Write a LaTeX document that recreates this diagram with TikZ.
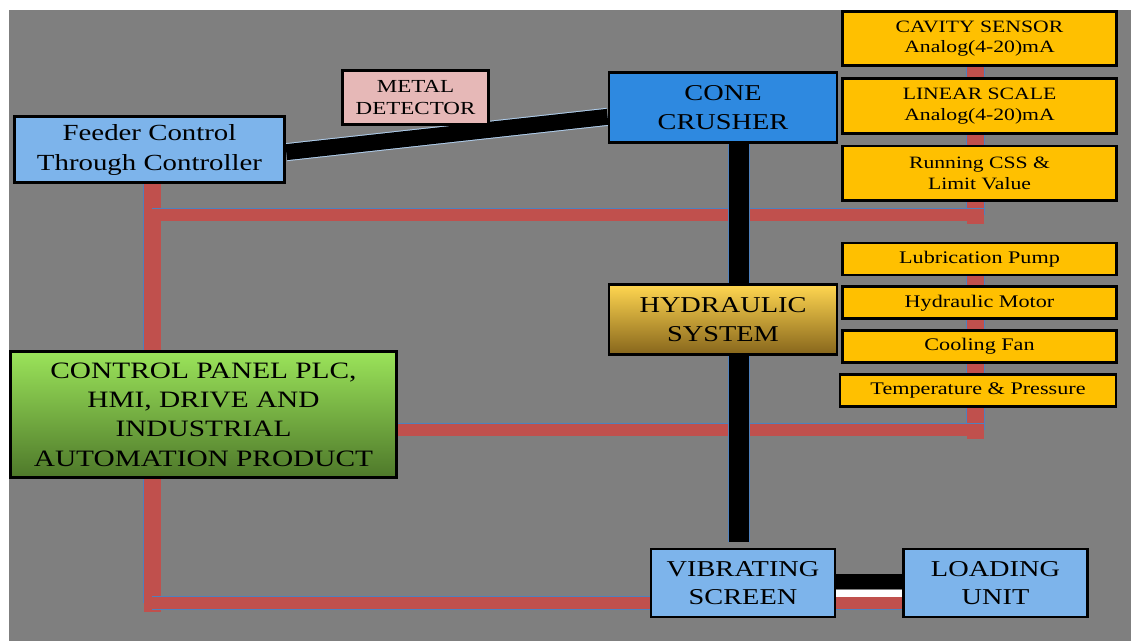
\documentclass[tikz,border=0pt]{standalone}
\usepackage{fontspec}
\setmainfont[FakeStretch=1.25]{Liberation Serif}
\usetikzlibrary{positioning}
\definecolor{bggray}{RGB}{127,127,127}
\definecolor{lblue}{RGB}{125,180,235}
\definecolor{cblue}{RGB}{46,137,224}
\definecolor{mpink}{RGB}{230,184,183}
\definecolor{sorange}{RGB}{255,192,0}
\definecolor{wred}{RGB}{192,80,77}
\definecolor{wedge}{RGB}{79,129,189}
\definecolor{diagedge}{RGB}{175,205,235}
\definecolor{hydtop}{RGB}{255,214,80}
\definecolor{hydbot}{RGB}{135,102,28}
\definecolor{pnltop}{RGB}{155,228,90}
\definecolor{pnlbot}{RGB}{78,120,42}
\pgfdeclarelayer{bg}
\pgfdeclarelayer{wires}
\pgfsetlayers{bg,wires,main}
\tikzstyle{box}=[draw=black,line width=2.1pt,align=center,inner sep=0pt,text=black]
\tikzstyle{big}=[box,font=\fontsize{17}{21.5}\selectfont]
\tikzstyle{unit}=[big,fill=lblue,minimum width=138pt,minimum height=51pt]
\tikzstyle{sensor}=[box,fill=sorange,minimum width=205pt,minimum height=41pt,font=\fontsize{13}{15.5}\selectfont]
\tikzstyle{pump}=[box,fill=sorange,minimum width=205pt,minimum height=24pt,font=\fontsize{13.3}{15}\selectfont]
\tikzstyle{redv}=[wred,line width=13pt,line cap=rect,preaction={draw=wedge,line width=13.8pt}]
\tikzstyle{redh}=[wred,line width=9pt,preaction={draw=wedge,line width=9.8pt}]
\tikzstyle{blackw}=[black,line width=15pt,preaction={draw=wedge,line width=15.8pt}]

\begin{document}
\begin{tikzpicture}[x=0.75pt,y=-0.75pt]
    \useasboundingbox (0,0) rectangle (1131,641);
    \begin{pgfonlayer}{bg}
        \fill[bggray] (9,10) rectangle (1131,641);
    \end{pgfonlayer}

    % main blocks
    \node[box,fill=lblue,minimum width=203pt,minimum height=50pt,font=\fontsize{17.3}{22.5}\selectfont] (feeder) at (149.5,149.5) {Feeder Control\\Through Controller};
    \node[box,fill=mpink,minimum width=109pt,minimum height=41pt,font=\fontsize{13.8}{16.5}\selectfont] (metal) at (415.5,97.5) {METAL\\DETECTOR};
    \node[big,fill=cblue,minimum width=171pt,minimum height=52pt] (cone) at (723,107.5) {CONE\\CRUSHER};
    \node[big,top color=hydtop,bottom color=hydbot,minimum width=171pt,minimum height=52pt] (hyd) at (723,319.5) {HYDRAULIC\\SYSTEM};
    \node[big,top color=pnltop,bottom color=pnlbot,minimum width=290pt,minimum height=95pt,font=\fontsize{17.6}{22}\selectfont] (panel) at (203.5,414.5) {CONTROL PANEL PLC,\\HMI, DRIVE AND\\INDUSTRIAL\\AUTOMATION PRODUCT};
    \node[unit] (vib) at (743,583) {VIBRATING\\SCREEN};
    \node[unit] (load) at (995.5,583) {LOADING\\UNIT};

    % sensor stacks
    \node[sensor] (cav) at (979.5,38.5) {CAVITY SENSOR\\Analog(4-20)mA};
    \node[sensor,below=7.5pt of cav] (lin) {LINEAR SCALE\\Analog(4-20)mA};
    \node[sensor,below=7.5pt of lin] (css) {Running CSS \&\\Limit Value};
    \node[pump] (lub) at (979.5,259) {Lubrication Pump};
    \node[pump,below=6.75pt of lub] (motor) {Hydraulic Motor};
    \node[pump,below=6.75pt of motor] (fan) {Cooling Fan};
    \node[pump,below=6.75pt of fan,xshift=-1.1pt,minimum width=207pt] (temp) {Temperature \& Pressure};

    \begin{pgfonlayer}{wires}
        % red signal lines
        \coordinate (fj) at ([xshift=2pt,yshift=-23pt]feeder.south);
        \draw[redv] ([xshift=2pt]feeder.south) -- (fj |- panel.north);
        \draw[redv] ([xshift=-3pt]cav.south) -- ([xshift=-3pt]cav.south |- fj) coordinate (cj);
        \draw[redh] (fj) -- ([xshift=6pt]cj);
        \coordinate (pj) at ([yshift=-11.5pt]panel.east);
        \draw[redv] ([xshift=-3pt]lub.south) -- ([xshift=-3pt]lub.south |- pj) coordinate (lj);
        \draw[redh] (pj) -- ([xshift=6pt]lj);
        \coordinate (bj) at ([yshift=-15pt]vib.west);
        \draw[redv] (fj |- panel.south) -- (fj |- bj) coordinate (bl);
        \draw[redh] (bl) -- (load.west |- bj);
        % material flow
        \draw[black,line width=12pt,preaction={draw=diagedge,line width=13.5pt}] ([yshift=-2pt]feeder.east) -- ([yshift=-7pt]cone.west);
        \coordinate (ct) at ([xshift=12pt]cone.south);
        \draw[blackw] (ct) -- ([yshift=4.5pt]ct |- vib.north);
        \draw[white,line width=5pt] ([yshift=-7.9pt]vib.east) -- ([yshift=-7.9pt]vib.east -| load.west);
        \draw[black,line width=11pt] ([yshift=1.1pt]vib.east) -- ([yshift=1.1pt]vib.east -| load.west);
    \end{pgfonlayer}
\end{tikzpicture}
\end{document}
